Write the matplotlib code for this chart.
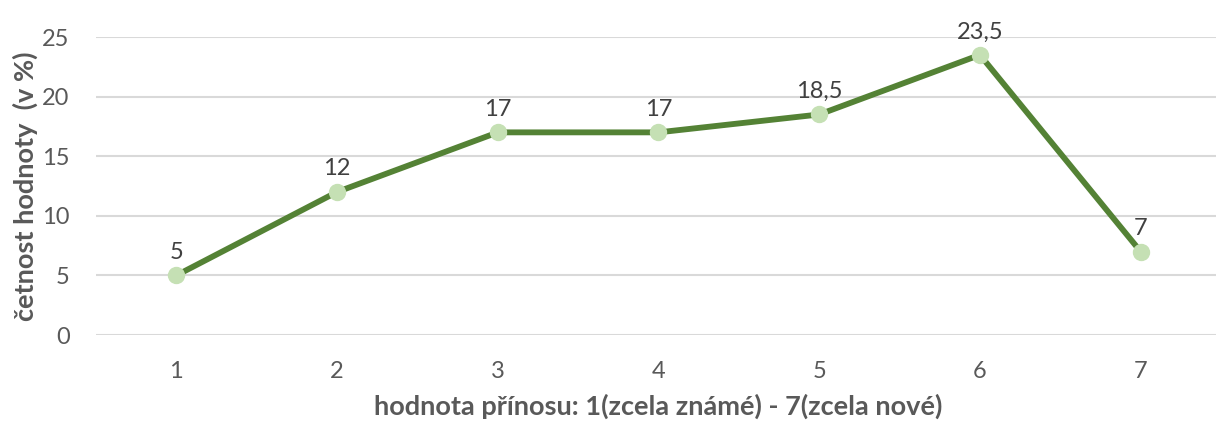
import numpy as np
import matplotlib.pyplot as plt

plt.rcParams['font.family'] = ['Lato', 'DejaVu Sans']

# hodnoty z grafu
kategorie = [1, 2, 3, 4, 5, 6, 7]
cetnost = [5, 12, 17, 17, 18.5, 23.5, 7]
popisky = ['5', '12', '17', '17', '18,5', '23,5', '7']

fig = plt.figure(figsize=(12.16, 4.28), dpi=100)
ax = fig.add_axes([96/1216, 1-335/428, 1125/1216, 298/428])

ax.plot(kategorie, cetnost, color='#548235', lw=4.2, zorder=3,
        marker='o', markersize=11.5, markerfacecolor='#C5E0B4',
        markeredgecolor='#C5E0B4')

for x, y, t in zip(kategorie, cetnost, popisky):
    ax.annotate(t, (x, y), xytext=(0, 9), textcoords='offset points',
                ha='center', va='bottom', fontsize=17, color='#404040')

ax.set_xlim(0.5, 7.5)
ax.set_ylim(0, 25)
ax.set_yticks([0, 5, 10, 15, 20, 25])
ax.set_xticks(kategorie)
ax.grid(axis='y', color='#D9D9D9', lw=1.5)
ax.set_axisbelow(True)
for s in ax.spines.values():
    s.set_visible(False)
ax.tick_params(length=0, labelsize=17, labelcolor='#595959')
ax.tick_params(axis='y', pad=19)
ax.tick_params(axis='x', pad=19)

ax.set_xlabel('hodnota přínosu: 1(zcela známé) - 7(zcela nové)',
              fontsize=19.5, fontweight='bold', color='#595959', labelpad=8)
ax.set_ylabel('četnost hodnoty  (v %)', fontsize=19.5, fontweight='bold',
              color='#595959', labelpad=3)

plt.savefig('out.png', dpi=100)
